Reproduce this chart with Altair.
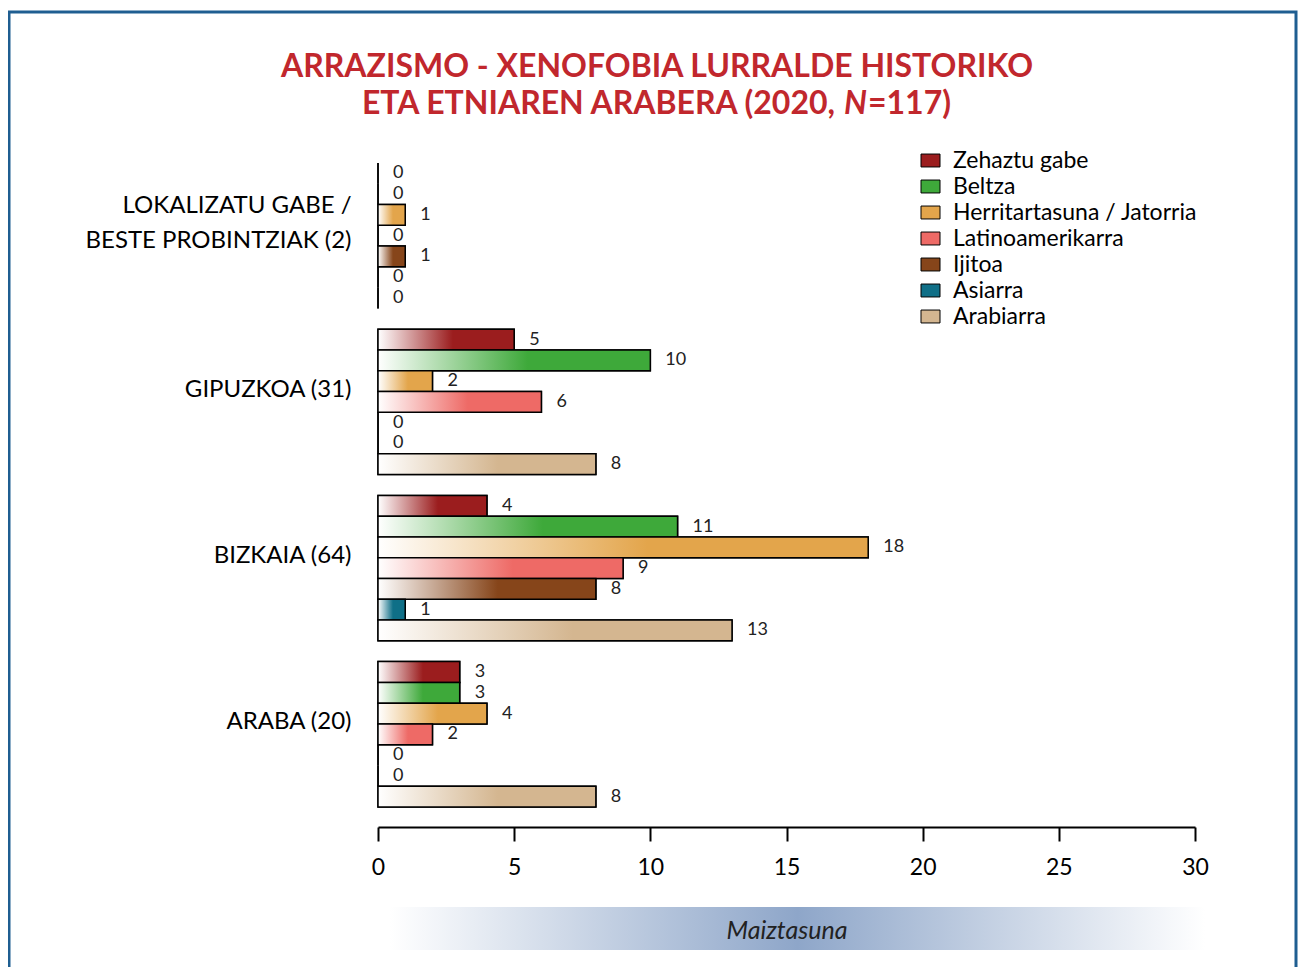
import altair as alt
import pandas as pd

groups = ["LOKALIZATU GABE /|BESTE PROBINTZIAK (2)", "GIPUZKOA (31)", "BIZKAIA (64)", "ARABA (20)"]
categories = ["Zehaztu gabe", "Beltza", "Herritartasuna / Jatorria", "Latinoamerikarra",
              "Ijitoa", "Asiarra", "Arabiarra"]
colors = ["#9b1d1e", "#3ea93a", "#e3a54b", "#ee6a66", "#86451a", "#0f6f87", "#d4b690"]
values_lokalizatu = [0, 0, 1, 0, 1, 0, 0]
values_gipuzkoa = [5, 10, 2, 6, 0, 0, 8]
values_bizkaia = [4, 11, 18, 9, 8, 1, 13]
values_araba = [3, 3, 4, 2, 0, 0, 8]
x_ticks = [0, 5, 10, 15, 20, 25, 30]
title_line1 = "ARRAZISMO - XENOFOBIA LURRALDE HISTORIKO"
title_line2 = ["ETA ETNIAREN ARABERA (2020,", "N", "=117)"]

rows = []
for g, vals in zip(groups, [values_lokalizatu, values_gipuzkoa, values_bizkaia, values_araba]):
    for c, v in zip(categories, vals):
        rows.append({"group": g, "cat": c, "value": v})
df = pd.DataFrame(rows)

FONT = "Lato"
RED = "#c1272d"

x_enc = alt.X("value:Q",
              scale=alt.Scale(domain=[0, 30], nice=False),
              axis=alt.Axis(values=x_ticks, title="Maiztasuna", grid=False,
                            tickSize=14, tickWidth=2, tickColor="black",
                            domainWidth=2, domainColor="black",
                            labelFontSize=23, labelFont=FONT, labelColor="black",
                            labelPadding=15, labelFlush=False,
                            titleFont=FONT, titleFontSize=25, titleFontStyle="italic",
                            titleFontWeight="normal", titleColor="#222222",
                            titlePadding=39, zindex=1))
y_enc = alt.Y("group:N", sort=groups,
              scale=alt.Scale(domain=groups, paddingInner=0.125, paddingOuter=0.12),
              axis=alt.Axis(title=None, domain=False, ticks=False, labelPadding=27,
                            labelFontSize=24, labelFont=FONT, labelColor="black",
                            labelLimit=400, labelLineHeight=35,
                            labelOffset={"condition": {"test": "indexof(datum.label, '|') >= 0",
                                                       "value": -30},
                                         "value": -12},
                            labelExpr="split(datum.label, '|')"))
yoff_enc = alt.YOffset("cat:N", sort=categories,
                       scale=alt.Scale(domain=categories, paddingInner=0, paddingOuter=0))

base = alt.Chart(df)
one = pd.DataFrame({"k": [0]})

border = alt.Chart(one).mark_rect(
    fill="transparent", stroke="#1f5e91", strokeWidth=3
).encode(x=alt.value(-369), x2=alt.value(918), y=alt.value(-131), y2=alt.value(840))

band = alt.Chart(one).mark_rect(
    color=alt.LinearGradient(gradient="linear", x1=0, x2=1, y1=0, y2=0,
                             stops=[alt.GradientStop(offset=0, color="#ffffff"),
                                    alt.GradientStop(offset=0.5, color="#8ea6c9"),
                                    alt.GradientStop(offset=1, color="#ffffff")])
).encode(x=alt.value(12), x2=alt.value(827), y=alt.value(764), y2=alt.value(807))

title_style = dict(font=FONT, fontSize=32, fontWeight="bold", color=RED, baseline="alphabetic")
t1 = alt.Chart(pd.DataFrame({"t": [title_line1]})).mark_text(align="center", **title_style).encode(
    x=alt.value(279), y=alt.value(-66), text="t:N")
t2a = alt.Chart(pd.DataFrame({"t": [title_line2[0]]})).mark_text(align="right", **title_style).encode(
    x=alt.value(457), y=alt.value(-29), text="t:N")
t2b = alt.Chart(pd.DataFrame({"t": [title_line2[1]]})).mark_text(
    align="left", fontStyle="italic", **title_style).encode(
    x=alt.value(466), y=alt.value(-29), text="t:N")
t2c = alt.Chart(pd.DataFrame({"t": [title_line2[2]]})).mark_text(align="left", **title_style).encode(
    x=alt.value(490), y=alt.value(-29), text="t:N")

legend_bars = base.mark_bar(stroke="black", strokeWidth=1.5).encode(
    x=x_enc, y=y_enc, yOffset=yoff_enc,
    color=alt.Color("cat:N", sort=categories,
                    scale=alt.Scale(domain=categories, range=colors),
                    legend=alt.Legend(title=None, orient="none", legendX=541, legendY=6,
                                      symbolType="M-1,-0.68L1,-0.68L1,0.68L-1,0.68Z",
                                      symbolSize=361, symbolStrokeColor="black",
                                      symbolStrokeWidth=1, symbolOpacity=1,
                                      labelFontSize=23, labelFont=FONT, labelColor="black",
                                      labelLimit=400, labelOffset=11, rowPadding=2))
)

layers = [border, band, t1, t2a, t2b, t2c, legend_bars]
for c, col in zip(categories, colors):
    grad = alt.LinearGradient(gradient="linear", x1=0, x2=1, y1=0, y2=0,
                              stops=[alt.GradientStop(offset=0, color="#ffffff"),
                                     alt.GradientStop(offset=0.55, color=col),
                                     alt.GradientStop(offset=1, color=col)])
    layers.append(
        base.transform_filter(alt.datum.cat == c)
        .mark_bar(color=grad, stroke="black", strokeWidth=1.5)
        .encode(x=x_enc, y=y_enc, yOffset=yoff_enc)
    )

labels = base.mark_text(align="left", baseline="middle", dx=15, fontSize=18,
                        font=FONT, color="#222222").encode(
    x=x_enc, y=y_enc, yOffset=yoff_enc, text="value:Q")
layers.append(labels)

chart = alt.layer(*layers).properties(
    width=817, height=684,
    autosize=alt.AutoSizeParams(type="none"),
    padding={"left": 370, "top": 135, "right": 103, "bottom": 140},
).configure_view(stroke=None)

chart.save("out.html", embed_options={"renderer": "svg", "actions": False})
